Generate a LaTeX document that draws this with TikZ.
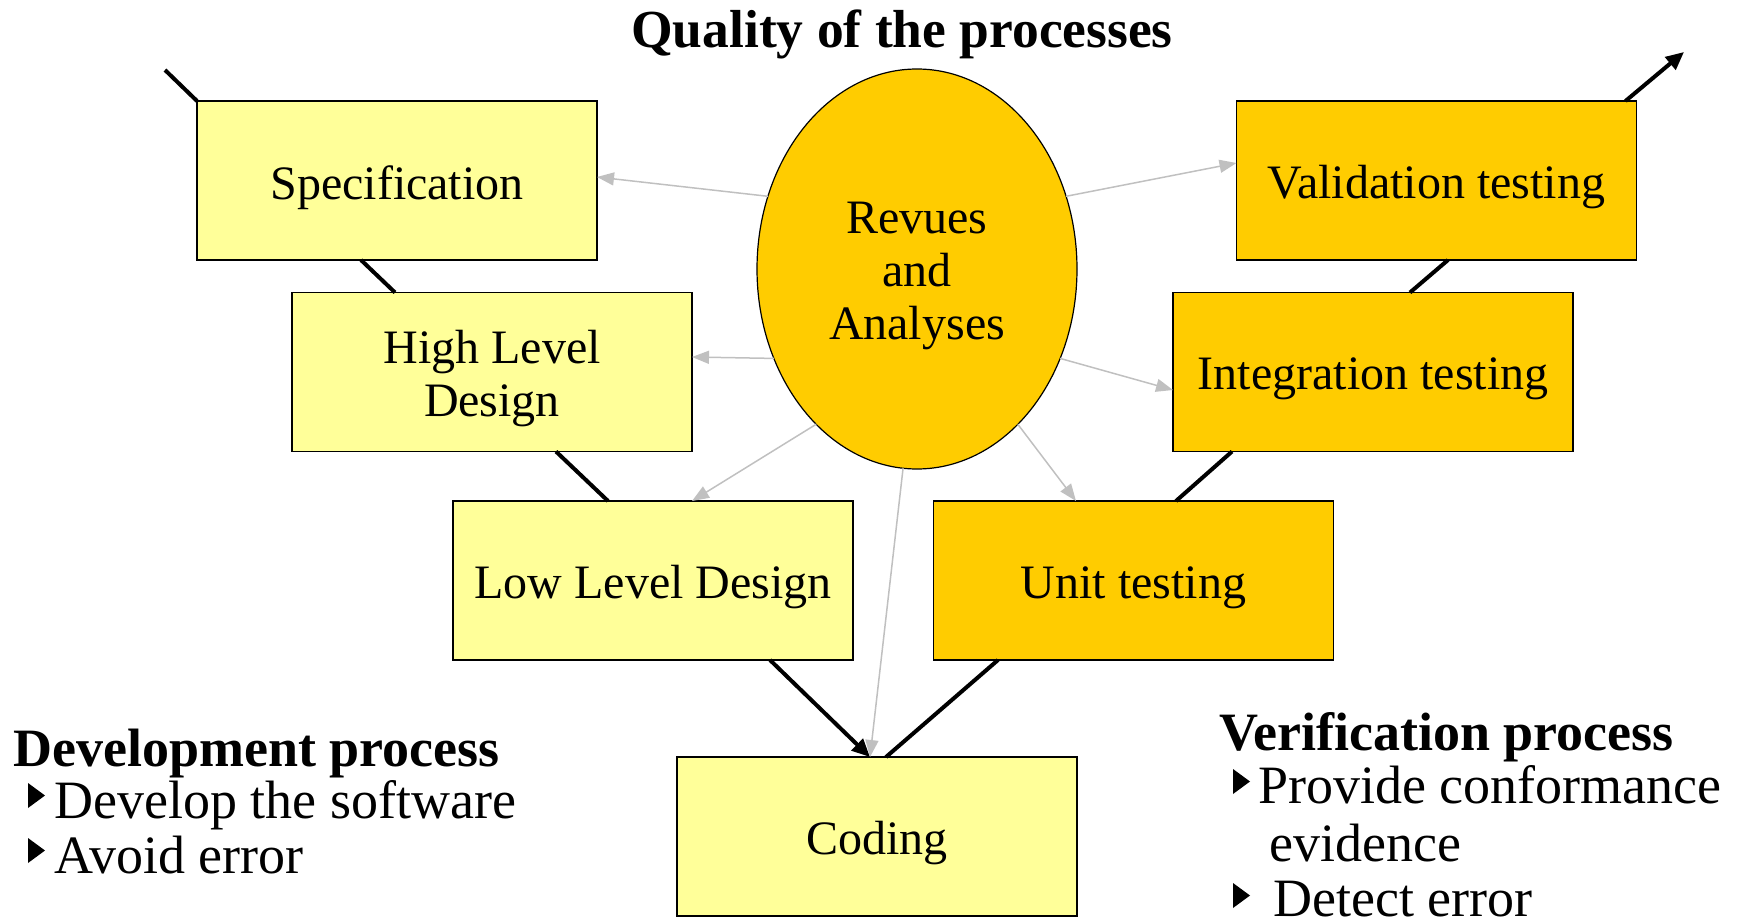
\documentclass[tikz,border=0pt]{standalone}
\usepackage{fontspec}
\setmainfont{Liberation Serif}
\usetikzlibrary{arrows.meta,shapes.geometric}
\definecolor{lightyel}{HTML}{FFFF99}
\definecolor{gold}{HTML}{FFCC00}
\definecolor{grayarr}{HTML}{C0C0C0}
\begin{document}
\begin{tikzpicture}[x=1pt,y=-1pt,
 boxtext/.style={inner sep=0pt,align=center,yshift=-7pt,font=\fontsize{48}{53}\selectfont},
 box/.style={draw,line width=1.7pt,minimum width=400pt,minimum height=159pt,inner sep=0pt,outer sep=0pt},
 devbox/.style={box,fill=lightyel},
 verbox/.style={box,fill=gold},
 vline/.style={line width=4pt},
 varrow/.style={vline,-{Triangle[length=18pt,width=16pt]}},
 garrow/.style={grayarr,line width=1.5pt,-{Triangle[length=17pt,width=13pt]}},
 heading/.style={font=\fontsize{54}{54}\bfseries\selectfont,inner sep=0pt},
 item/.style={font=\fontsize{54}{54}\selectfont,inner sep=0pt,anchor=base west},
]
\useasboundingbox (0,0) rectangle (1737,920);

\node[heading,anchor=base,font=\fontsize{53.5}{54}\bfseries\selectfont] (title) at (902,48) {Quality of the processes};

\node[devbox,label={[boxtext]center:Specification}] (spec) at (397,180.5) {};
\node[devbox,label={[boxtext]center:High Level\\Design}] (hld) at (492,372) {};
\node[devbox,label={[boxtext]center:Low Level Design}] (lld) at (653,580.5) {};
\node[devbox,label={[boxtext]center:Coding}] (cod) at (877,836.5) {};
\node[verbox,label={[boxtext]center:Validation testing}] (val) at (1436.5,180.5) {};
\node[verbox,label={[boxtext]center:Integration testing}] (int) at (1373,372) {};
\node[verbox,label={[boxtext]center:Unit testing}] (unit) at (1133.5,580.5) {};

\node[ellipse,draw,line width=1.2pt,fill=gold,minimum width=320pt,minimum height=400pt,inner sep=0pt,outer sep=0pt,label={[boxtext]center:Revues\\and\\Analyses}] (rev) at (917,269) {};

\coordinate (tl) at (165,70);
\coordinate (tr) at (1684,52);

% V-shaped process lines
\draw[vline] (tl) -- (spec.north west);
\draw[vline] ([xshift=-36pt]spec.south) -- ([xshift=-97pt]hld.north);
\draw[vline] ([xshift=64pt]hld.south) -- ([xshift=-45pt]lld.north);
\draw[varrow] ([xshift=117pt]lld.south) -- ([xshift=-7pt]cod.north);
\draw[vline] ([xshift=-135.5pt]unit.south) -- ([xshift=9pt]cod.north);
\draw[vline] ([xshift=42.5pt]unit.north) -- ([xshift=-141pt]int.south);
\draw[vline] ([xshift=37pt]int.north) -- ([xshift=11.5pt]val.south);
\draw[varrow] ([xshift=-11pt]val.north east) -- (tr);

% review arrows
\draw[garrow] (rev.154) -- ([yshift=3.5pt]spec.east);
\draw[garrow] (rev.212) -- ([yshift=15pt]hld.east);
\draw[garrow] (rev.237) -- ([xshift=39pt]lld.north);
\draw[garrow] (rev.266) -- ([xshift=-7pt]cod.north);
\draw[garrow] (rev.303) -- ([xshift=-57.5pt]unit.north);
\draw[garrow] (rev.328) -- ([yshift=-18pt]int.west);
\draw[garrow] (rev.26) -- ([yshift=17.5pt]val.west);

% development process text
\node[heading,anchor=base west] (dev) at (13,766) {Development process};
\fill (28,783) -- (45,795.5) -- (28,808) -- cycle;
\node[item] (dev1) at (54,818) {Develop the software};
\fill (28,838) -- (45,850.5) -- (28,863) -- cycle;
\node[item] (dev2) at (54,873) {Avoid error};

% verification process text
\node[heading,anchor=base west] (ver) at (1219,750) {Verification process};
\fill (1233,769) -- (1250,781.5) -- (1233,794) -- cycle;
\node[item] (ver1) at (1258,803) {Provide conformance};
\node[item] (ver2) at (1269,861) {evidence};
\fill (1233,883) -- (1250,895.5) -- (1233,908) -- cycle;
\node[item] (ver3) at (1273,916) {Detect error};
\end{tikzpicture}
\end{document}
